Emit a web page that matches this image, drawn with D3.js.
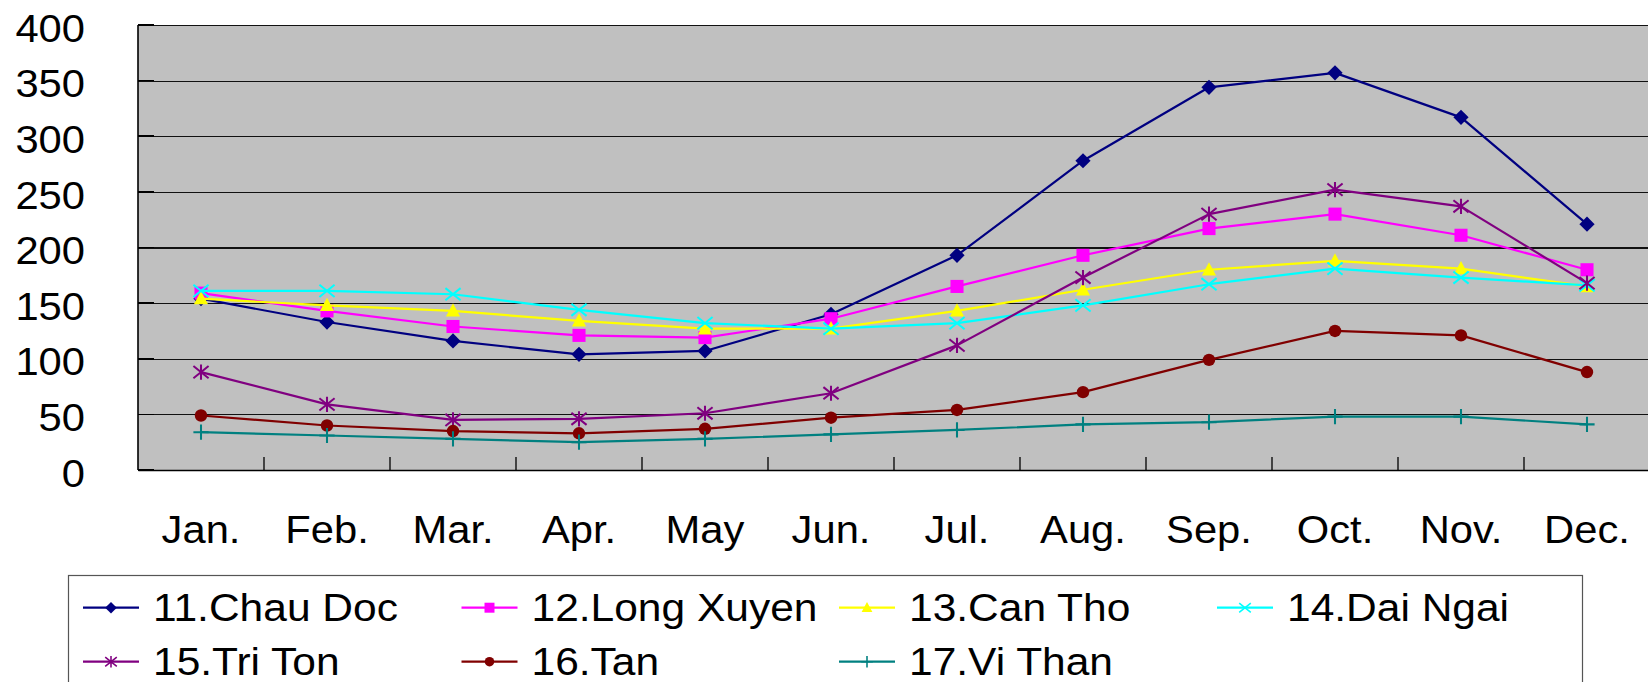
<!DOCTYPE html>
<html>
<head>
<meta charset="utf-8">
<script src="https://cdn.jsdelivr.net/npm/d3@7"></script>
<style>
  html, body { margin: 0; padding: 0; background: #ffffff; }
  svg { display: block; }
  text { font-family: "Liberation Sans", Arial, Helvetica, sans-serif; fill: #000; }
</style>
</head>
<body>
<script>
// Monthly values (mm) for each station
const months = ["Jan.", "Feb.", "Mar.", "Apr.", "May", "Jun.", "Jul.", "Aug.", "Sep.", "Oct.", "Nov.", "Dec."];
const yTicks = [0, 50, 100, 150, 200, 250, 300, 350, 400];

const chauDoc   = [154, 133, 116, 104, 107, 140, 193, 278, 344, 357, 317, 221];
const longXuyen = [159, 143, 129, 121, 119, 136, 165, 193, 217, 230, 211, 180];
const canTho    = [154, 148, 143, 134, 127, 127, 143, 162, 180, 188, 181, 165];
const daiNgai   = [161, 161, 158, 144, 132, 127, 132, 148, 167, 181, 173, 166];
const triTon    = [88, 59, 45, 46, 51, 69, 112, 173, 230, 252, 237, 168];
const tan       = [49, 40, 35, 33, 37, 47, 54, 70, 99, 125, 121, 88];
const viThan    = [34, 31, 28, 25, 28, 32, 36, 41, 43, 48, 48, 41];

const seriesNames = ["11.Chau Doc", "12.Long Xuyen", "13.Can Tho", "14.Dai Ngai", "15.Tri Ton", "16.Tan", "17.Vi Than"];
const seriesValues = [chauDoc, longXuyen, canTho, daiNgai, triTon, tan, viThan];
const seriesColors = ["#000080", "#ff00ff", "#ffff00", "#00ffff", "#800080", "#800000", "#008080"];
const seriesMarkers = ["diamond", "square", "triangle", "cross", "asterisk", "circle", "plus"];

const series = seriesNames.map((name, i) => ({
  name, values: seriesValues[i], color: seriesColors[i], marker: seriesMarkers[i]
}));

const W = 1648, H = 682;
const plot = { left: 138, top: 25, bottom: 470, band: 126 };
const stretch = 1.07;        // slightly wide lettering
const legendStretch = 1.09;

const svg = d3.select("body").append("svg").attr("width", W).attr("height", H);

const x = d3.scaleBand().domain(months).range([plot.left, plot.left + plot.band * months.length]).padding(0);
const y = d3.scaleLinear().domain([0, 400]).range([plot.bottom, plot.top]);
const cx = m => x(m) + x.bandwidth() / 2;

// plot background
svg.append("rect")
  .attr("x", plot.left).attr("y", plot.top)
  .attr("width", x.range()[1] - plot.left).attr("height", plot.bottom - plot.top)
  .attr("fill", "#c0c0c0");

// horizontal gridlines from the y axis
const yAxis = d3.axisLeft(y).tickValues(yTicks).tickSize(-(x.range()[1] - plot.left)).tickFormat("");
const gy = svg.append("g").attr("transform", `translate(${plot.left},0)`).call(yAxis);
gy.select(".domain").remove();
gy.selectAll(".tick line").attr("stroke", "#111").attr("stroke-width", 1.2).attr("shape-rendering", "crispEdges");

// y tick labels
svg.append("g").selectAll("text").data(yTicks).join("text")
  .attr("transform", d => `translate(85,${y(d) + 16.7}) scale(${stretch},1)`)
  .attr("text-anchor", "end")
  .style("font-size", "39px")
  .text(d => d);

// short inside ticks on the y axis
svg.append("g").selectAll("line").data(yTicks).join("line")
  .attr("x1", plot.left).attr("x2", plot.left + 16)
  .attr("y1", d => y(d)).attr("y2", d => y(d))
  .attr("stroke", "#000").attr("stroke-width", 1.6).attr("shape-rendering", "crispEdges");

// x axis line with inside ticks at category boundaries
const xAxis = d3.axisBottom(x).tickSize(0).tickFormat("");
const gx = svg.append("g").attr("transform", `translate(0,${plot.bottom})`).call(xAxis);
gx.select(".domain").attr("stroke", "#000").attr("stroke-width", 1.6);
svg.append("g").selectAll("line").data(months.slice(1)).join("line")
  .attr("x1", d => x(d)).attr("x2", d => x(d))
  .attr("y1", plot.bottom).attr("y2", plot.bottom - 13)
  .attr("stroke", "#000").attr("stroke-width", 1.3);

// left border
svg.append("line").attr("x1", plot.left).attr("x2", plot.left).attr("y1", plot.top).attr("y2", plot.bottom)
  .attr("stroke", "#000").attr("stroke-width", 1.6);

// month labels
svg.append("g").selectAll("text").data(months).join("text")
  .attr("transform", d => `translate(${cx(d)},543) scale(${stretch},1)`)
  .attr("text-anchor", "middle")
  .style("font-size", "39px")
  .text(d => d);

// marker shapes
function drawMarker(g, type, s, color) {
  const sw = Math.max(1.4, s * 0.27);
  switch (type) {
    case "diamond":
      g.append("path").attr("d", `M0,${-s}L${s},0L0,${s}L${-s},0Z`).attr("fill", color);
      break;
    case "square":
      g.append("rect").attr("x", -s * 0.86).attr("y", -s * 0.86).attr("width", s * 1.72).attr("height", s * 1.72).attr("fill", color);
      break;
    case "triangle":
      g.append("path").attr("d", `M0,${-s}L${s * 0.93},${s * 0.75}L${-s * 0.93},${s * 0.75}Z`).attr("fill", color);
      break;
    case "cross":
      g.append("path").attr("d", `M${-s},${-s * 0.8}L${s},${s * 0.8}M${-s},${s * 0.8}L${s},${-s * 0.8}`)
        .attr("stroke", color).attr("stroke-width", sw).attr("fill", "none");
      break;
    case "asterisk":
      g.append("path").attr("d", `M${-s},${-s * 0.8}L${s},${s * 0.8}M${-s},${s * 0.8}L${s},${-s * 0.8}M0,${-s}L0,${s}`)
        .attr("stroke", color).attr("stroke-width", sw).attr("fill", "none");
      break;
    case "circle":
      g.append("circle").attr("r", s * 0.82).attr("fill", color);
      break;
    case "plus":
      g.append("path").attr("d", `M0,${-s}L0,${s}M${-s},0L${s},0`)
        .attr("stroke", color).attr("stroke-width", sw).attr("fill", "none");
      break;
  }
}

// series lines and markers
const line = d3.line().x((d, i) => cx(months[i])).y(d => y(d));
series.forEach(s => {
  const g = svg.append("g");
  g.append("path").attr("d", line(s.values))
    .attr("fill", "none").attr("stroke", s.color).attr("stroke-width", 2.2).attr("stroke-linejoin", "round");
  s.values.forEach((v, i) => {
    const mg = g.append("g").attr("transform", `translate(${cx(months[i])},${y(v)})`);
    drawMarker(mg, s.marker, 7.6, s.color);
  });
});

// legend
const legend = svg.append("g");
legend.append("rect")
  .attr("x", 68.5).attr("y", 575.5).attr("width", 1514).attr("height", 140)
  .attr("fill", "#ffffff").attr("stroke", "#555").attr("stroke-width", 1.2);

const colX = [83, 461.5, 839, 1217];
const rowY = [607.7, 661.7];
series.forEach((s, i) => {
  const cxl = colX[i % 4], ry = rowY[Math.floor(i / 4)];
  const g = legend.append("g");
  g.append("line").attr("x1", cxl).attr("x2", cxl + 56).attr("y1", ry).attr("y2", ry)
    .attr("stroke", s.color).attr("stroke-width", 2.2);
  const mg = g.append("g").attr("transform", `translate(${cxl + 28},${ry})`);
  drawMarker(mg, s.marker, 5.8, s.color);
  g.append("text")
    .attr("transform", `translate(${cxl + 70},${ry + 13.5}) scale(${legendStretch},1)`)
    .style("font-size", "39px")
    .text(s.name);
});
</script>
</body>
</html>
